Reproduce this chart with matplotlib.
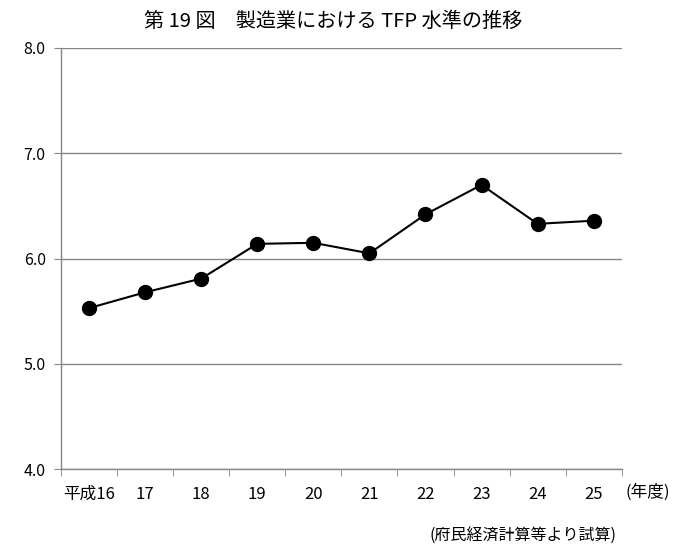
import matplotlib.pyplot as plt
import numpy as np

plt.rcParams['font.family'] = ['Noto Sans CJK JP', 'DejaVu Sans']

# data to plot
years = ['平成16', '17', '18', '19', '20', '21', '22', '23', '24', '25']
tfp = [5.53, 5.68, 5.81, 6.14, 6.15, 6.05, 6.42, 6.70, 6.33, 6.36]
yticks = [4.0, 5.0, 6.0, 7.0, 8.0]

grey = '#868686'

fig = plt.figure(figsize=(6.78, 5.45), dpi=100)
ax = fig.add_axes([0.090, 0.139, 0.827, 0.773])

x = np.arange(len(years))
ax.plot(x, tfp, color='black', linewidth=1.5, marker='o', markersize=10, zorder=3)

ax.set_xlim(-0.5, len(years) - 0.5)
ax.set_ylim(4.0, 8.0)
ax.set_yticks(yticks)
ax.set_yticklabels(['%.1f' % v for v in yticks], fontsize=11.5)
ax.set_xticks(x)
ax.set_xticklabels(years, fontsize=12)
ax.tick_params(axis='x', which='major', length=0, pad=12)
ax.set_xticks(np.arange(len(years) + 1) - 0.5, minor=True)
ax.tick_params(axis='x', which='minor', length=5, color=grey, direction='out')
ax.tick_params(axis='y', length=5, color=grey, direction='out', pad=6)

ax.grid(axis='y', color=grey, linewidth=1)
ax.set_axisbelow(True)
for s in ['top', 'right']:
    ax.spines[s].set_visible(False)
for s in ['left', 'bottom']:
    ax.spines[s].set_color(grey)
    ax.spines[s].set_linewidth(1)

fig.text(0.492, 0.96, '第 19 図\u3000製造業における TFP 水準の推移', ha='center', va='center', fontsize=14.5)
fig.text(0.922, 0.097, '(年度)', ha='left', va='center', fontsize=12)
fig.text(0.91, 0.015, '(府民経済計算等より試算)', ha='right', va='center', fontsize=11.5)

plt.savefig('out.png')
